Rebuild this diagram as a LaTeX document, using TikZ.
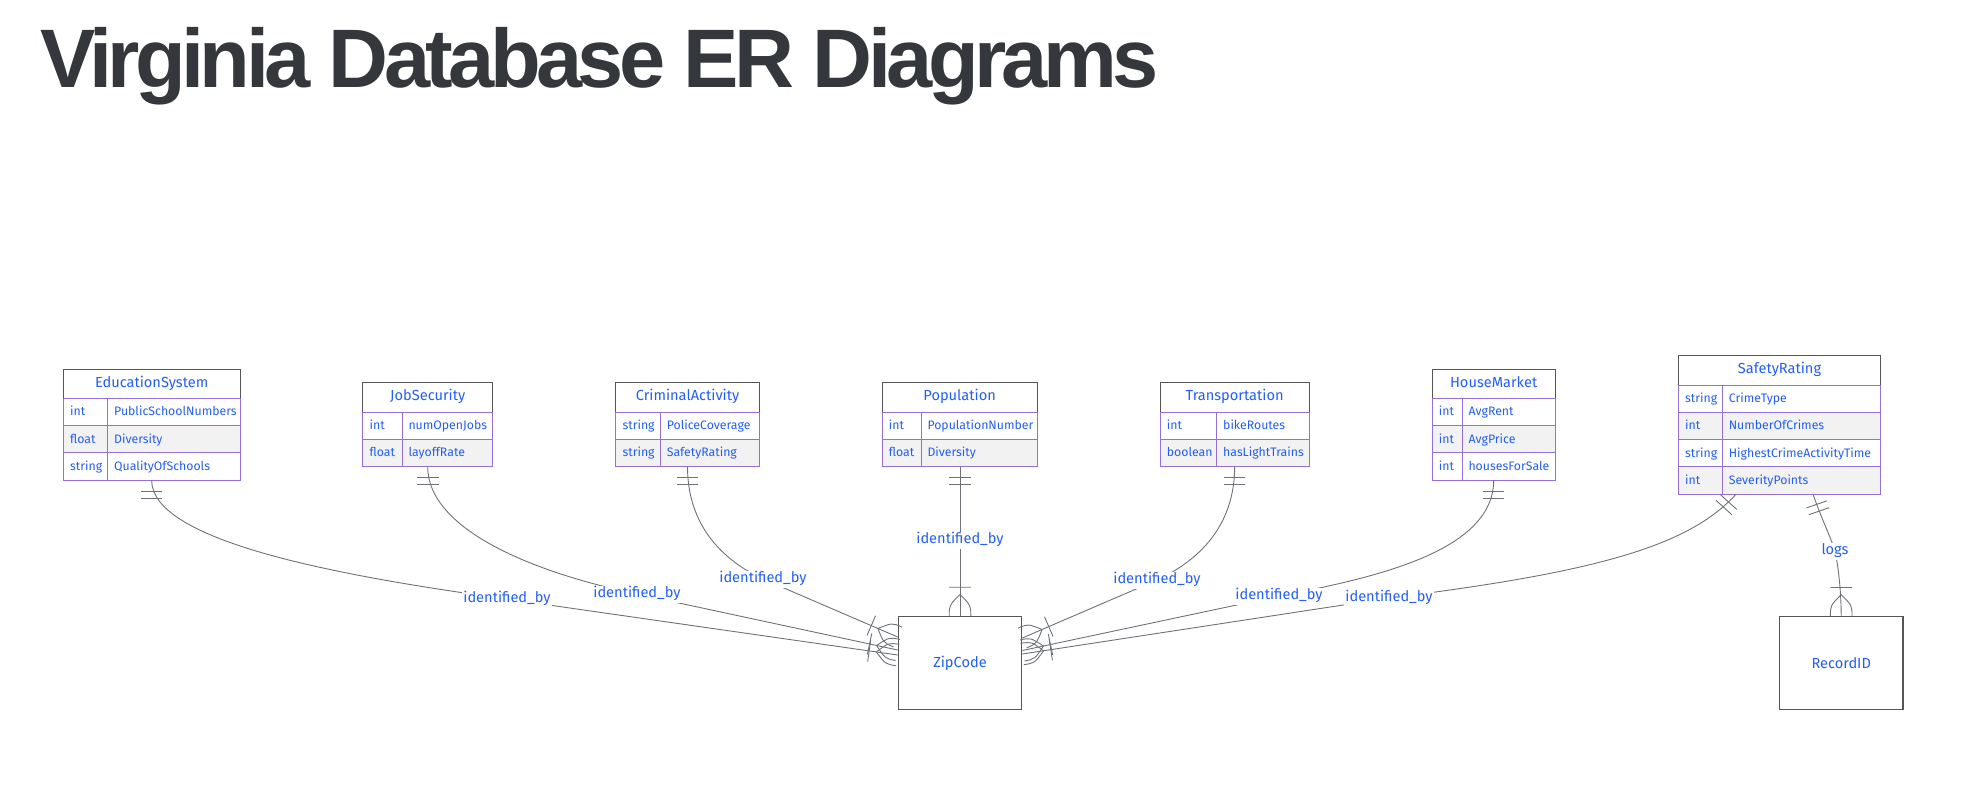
\documentclass[tikz,border=0pt]{standalone}
\usepackage{fontspec}
\setmainfont{Fira Sans}
\newfontfamily\titlefont[LetterSpace=-5.6]{Liberation Sans}
\usetikzlibrary{calc}
\definecolor{txtblue}{RGB}{35,95,245}
\definecolor{edgegrey}{RGB}{110,114,120}
\definecolor{hdrgrey}{RGB}{85,85,85}
\definecolor{attrpurple}{RGB}{147,112,219}
\definecolor{rowgrey}{RGB}{242,242,242}
\definecolor{titlegrey}{RGB}{52,55,60}
\tikzset{
  rel/.style={draw=edgegrey, line width=0.9pt},
  mk/.style={sloped, allow upside down},
  one/.pic={\draw[rel] (10.8,-10.8) -- (10.8,10.8) (18,-10.8) -- (18,10.8);},
  many/.pic={\draw[rel] (0,-10.8) .. controls (-10.8,-10.8) .. (-21.6,0) .. controls (-10.8,10.8) .. (0,10.8)
                        (-28.8,-10.8) -- (-28.8,10.8);}
}
\begin{document}
\begin{tikzpicture}[x=1pt, y=-1pt,
    hdr/.style={draw=hdrgrey, line width=0.9pt, fill=white, text=txtblue, font=\fontsize{14.6}{16}\selectfont,
      inner sep=0pt, text height=10pt, text depth=3pt, minimum height=29.3pt},
    attr/.style={draw=attrpurple, line width=0.9pt},
    atxt/.style={anchor=base west, inner sep=0pt, text=txtblue, font=\fontsize{12.3}{14}\selectfont},
    ent/.style={draw=hdrgrey, line width=1.1pt, fill=white, text=txtblue, font=\fontsize{14.6}{16}\selectfont,
      minimum width=123.5pt, minimum height=92.8pt},
    lbl/.style={fill=white, text=txtblue, font=\fontsize{14.6}{16}\selectfont, inner sep=1.5pt,
      text height=10.5pt, text depth=3.5pt}]
\useasboundingbox (0,0) rectangle (1987,800);
\node[anchor=base west, inner sep=0pt, text=titlegrey, font=\titlefont\bfseries\fontsize{83}{90}\selectfont] (title) at (40,88) {Virginia Database ER Diagrams};

% EducationSystem
\node[hdr, minimum width=176.7pt] (edu) at (151.65,383.65) {EducationSystem};
\foreach \ty/\nm/\fl [count=\i] in {int/PublicSchoolNumbers/white, float/Diversity/rowgrey, string/QualityOfSchools/white}{
  \pgfmathsetmacro\yt{398.3+27.3*(\i-1)}
  \draw[attr, fill=\fl] (63.3,\yt) rectangle (107.7,\yt+27.3);
  \draw[attr, fill=\fl] (107.7,\yt) rectangle (240,\yt+27.3);
  \node[atxt] (edu-t\i) at (70,\yt+17.65) {\ty};
  \node[atxt] (edu-n\i) at (114,\yt+17.65) {\nm};
}
% JobSecurity
\node[hdr, minimum width=130pt] (job) at (427.7,397.35) {JobSecurity};
\foreach \ty/\nm/\fl [count=\i] in {int/numOpenJobs/white, float/layoffRate/rowgrey}{
  \pgfmathsetmacro\yt{412+27.3*(\i-1)}
  \draw[attr, fill=\fl] (362.7,\yt) rectangle (402,\yt+27.3);
  \draw[attr, fill=\fl] (402,\yt) rectangle (492.7,\yt+27.3);
  \node[atxt] (job-t\i) at (369.4,\yt+17.65) {\ty};
  \node[atxt] (job-n\i) at (408.3,\yt+17.65) {\nm};
}
% CriminalActivity
\node[hdr, minimum width=143.6pt] (crime) at (687.5,397.35) {CriminalActivity};
\foreach \ty/\nm/\fl [count=\i] in {string/PoliceCoverage/white, string/SafetyRating/rowgrey}{
  \pgfmathsetmacro\yt{412+27.3*(\i-1)}
  \draw[attr, fill=\fl] (615.7,\yt) rectangle (660.3,\yt+27.3);
  \draw[attr, fill=\fl] (660.3,\yt) rectangle (759.3,\yt+27.3);
  \node[atxt] (crime-t\i) at (622.4,\yt+17.65) {\ty};
  \node[atxt] (crime-n\i) at (666.6,\yt+17.65) {\nm};
}
% Population
\node[hdr, minimum width=155.3pt] (pop) at (959.65,397.35) {Population};
\foreach \ty/\nm/\fl [count=\i] in {int/PopulationNumber/white, float/Diversity/rowgrey}{
  \pgfmathsetmacro\yt{412+27.3*(\i-1)}
  \draw[attr, fill=\fl] (882,\yt) rectangle (921,\yt+27.3);
  \draw[attr, fill=\fl] (921,\yt) rectangle (1037.3,\yt+27.3);
  \node[atxt] (pop-t\i) at (888.7,\yt+17.65) {\ty};
  \node[atxt] (pop-n\i) at (927.3,\yt+17.65) {\nm};
}
% Transportation
\node[hdr, minimum width=149.3pt] (trans) at (1234.65,397.35) {Transportation};
\foreach \ty/\nm/\fl [count=\i] in {int/bikeRoutes/white, boolean/hasLightTrains/rowgrey}{
  \pgfmathsetmacro\yt{412+27.3*(\i-1)}
  \draw[attr, fill=\fl] (1160,\yt) rectangle (1216.7,\yt+27.3);
  \draw[attr, fill=\fl] (1216.7,\yt) rectangle (1309.3,\yt+27.3);
  \node[atxt] (trans-t\i) at (1166.7,\yt+17.65) {\ty};
  \node[atxt] (trans-n\i) at (1223,\yt+17.65) {\nm};
}
% HouseMarket
\node[hdr, minimum width=123.3pt] (house) at (1493.65,383.65) {HouseMarket};
\foreach \ty/\nm/\fl [count=\i] in {int/AvgRent/white, int/AvgPrice/rowgrey, int/housesForSale/white}{
  \pgfmathsetmacro\yt{398.3+27.3*(\i-1)}
  \draw[attr, fill=\fl] (1432,\yt) rectangle (1462,\yt+27.3);
  \draw[attr, fill=\fl] (1462,\yt) rectangle (1555.3,\yt+27.3);
  \node[atxt] (house-t\i) at (1438.7,\yt+17.65) {\ty};
  \node[atxt] (house-n\i) at (1468.3,\yt+17.65) {\nm};
}
% SafetyRating
\node[hdr, minimum width=202.4pt] (safety) at (1779.5,370.35) {SafetyRating};
\foreach \ty/\nm/\fl [count=\i] in {string/CrimeType/white, int/NumberOfCrimes/rowgrey, string/HighestCrimeActivityTime/white, int/SeverityPoints/rowgrey}{
  \pgfmathsetmacro\yt{385+27.3*(\i-1)}
  \draw[attr, fill=\fl] (1678.3,\yt) rectangle (1722.3,\yt+27.3);
  \draw[attr, fill=\fl] (1722.3,\yt) rectangle (1880.7,\yt+27.3);
  \node[atxt] (safety-t\i) at (1685,\yt+17.65) {\ty};
  \node[atxt] (safety-n\i) at (1728.6,\yt+17.65) {\nm};
}

\node[ent] (zip) at (960,663) {ZipCode};
\node[ent] (rec) at (1841.2,663.2) {RecordID};

\coordinate (edu-s) at (151.65,480.2);
\coordinate (job-s) at (427.7,466.6);
\coordinate (crime-s) at (687.5,466.6);
\coordinate (pop-s) at (960,466.6);
\coordinate (trans-s) at (1234.65,466.6);
\coordinate (house-s) at (1493.65,480.2);
\coordinate (safety-s) at (1736,494.2);
\coordinate (safety-s2) at (1813,494.2);

\coordinate (l-edu) at (507,599);
\coordinate (l-job) at (637,594);
\coordinate (l-crime) at (763,579);
\coordinate (l-pop) at (960,540);
\coordinate (l-trans) at (1157,580);
\coordinate (l-house) at (1279,596);
\coordinate (l-safety) at (1389,598);
\coordinate (l-logs) at (1835,551);

\draw[rel] (edu-s) .. controls (151.65,540) and (330,575) .. (l-edu) pic[pos=0,mk]{one}
  -- ($(zip.west)+(0,-8)$) pic[pos=1,mk]{many};
\draw[rel] (job-s) .. controls (427.7,530) and (535,573) .. (l-job) pic[pos=0,mk]{one}
  -- ($(zip.west)+(0,-13)$) pic[pos=1,mk]{many};
\draw[rel] (crime-s) .. controls (687.5,525) and (722,560) .. (l-crime) pic[pos=0,mk]{one}
  -- ($(zip.west)+(0,-26)$) pic[pos=1,mk]{many};
\draw[rel] (pop-s) -- (l-pop) pic[pos=0,mk]{one} -- (zip.north) pic[pos=1,mk]{many};
\draw[rel] (trans-s) .. controls (1234.65,525) and (1200,560) .. (l-trans) pic[pos=0,mk]{one}
  -- ($(zip.east)+(0,-25)$) pic[pos=1,mk]{many};
\draw[rel] (house-s) .. controls (1493.65,550) and (1380,577) .. (l-house) pic[pos=0,mk]{one}
  -- ($(zip.east)+(0,-12.5)$) pic[pos=1,mk]{many};
\draw[rel] (safety-s) .. controls (1690,545) and (1600,572) .. (l-safety) pic[pos=0,mk]{one}
  -- ($(zip.east)+(0,-9)$) pic[pos=1,mk]{many};
\draw[rel] (safety-s2) .. controls (1822,520) and (1831,538) .. (l-logs) pic[pos=0,mk]{one}
  .. controls (1839,570) and (1841.2,595) .. (rec.north) pic[pos=1,mk]{many};

\node[lbl] (r-edu) at (l-edu) {identified\_by};
\node[lbl] (r-job) at (l-job) {identified\_by};
\node[lbl] (r-crime) at (l-crime) {identified\_by};
\node[lbl] (r-pop) at (l-pop) {identified\_by};
\node[lbl] (r-trans) at (l-trans) {identified\_by};
\node[lbl] (r-house) at (l-house) {identified\_by};
\node[lbl] (r-safety) at (l-safety) {identified\_by};
\node[lbl] (r-logs) at (l-logs) {logs};
\end{tikzpicture}
\end{document}
